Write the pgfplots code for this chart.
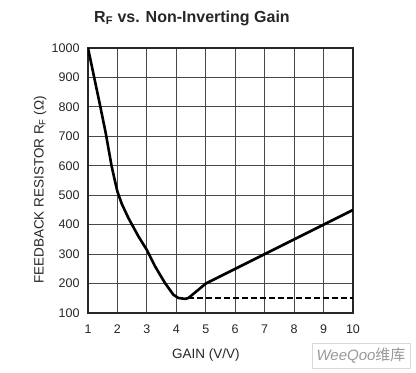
\documentclass[border=0pt]{standalone}
\usepackage{pgfplots}
\pgfplotsset{compat=1.18}
\usepackage{fontspec}
\setmainfont{Liberation Sans}
\newfontfamily\cjk{Noto Sans CJK SC}
\begin{document}
\begin{tikzpicture}[x=1pt,y=1pt]
\useasboundingbox (0,0) rectangle (416,373);
\begin{axis}[
  at={(88pt,60pt)}, anchor=south west,
  width=265pt, height=265pt, scale only axis,
  xmin=1, xmax=10, ymin=100, ymax=1000,
  xtick={1,2,...,10}, ytick={100,200,...,1000},
  /pgf/number format/assume math mode=true,
  /pgf/number format/1000 sep={},
  grid=major, grid style={line width=1.1pt, black!72},
  axis line style={line width=1.3pt, black!85},
  major tick length=0pt,
  tick label style={font=\fontsize{12.5}{14}\selectfont, black!85},
  xticklabel style={yshift=-8pt},
  yticklabel style={xshift=-5pt},
  xlabel={GAIN (V/V)},
  ylabel={FEEDBACK RESISTOR R\textsubscript{F} (Ω)},
  label style={font=\fontsize{13.5}{15}\selectfont, black!85},
  xlabel style={at={(axis description cs:0.445,0)}, anchor=north, yshift=-32pt},
  ylabel style={at={(axis description cs:-0.181,0.464)}, anchor=center},
]
\addplot[black, line width=2.6pt, line join=round, line cap=round] coordinates {
 (1,1000) (1.2,905) (1.4,810) (1.6,712) (1.8,600) (1.9,555) (2.0,512)
 (2.15,470) (2.38,421) (2.72,359) (3.0,314) (3.28,258) (3.62,201)
 (3.9,162) (4.07,151) (4.3,148) (4.41,151) (4.75,179) (5.0,200)
 (7,300) (9,400) (10,450)
};
\addplot[black, line width=2.4pt, dash pattern=on 6pt off 3pt] coordinates {
 (4.4,150) (10,150)
};
\end{axis}
\node[font=\fontsize{16}{18}\selectfont\bfseries, text=black!85] at (192,355) {R\textsubscript{F} vs. Non-Inverting Gain};
\node[draw=black!15, fill=white, minimum width=98pt, minimum height=25pt, inner sep=1pt,
      font=\fontsize{15}{16}\selectfont, text=black!40] at (361,17.5) {\textit{WeeQoo}{\cjk 维库}};
\end{tikzpicture}
\end{document}
